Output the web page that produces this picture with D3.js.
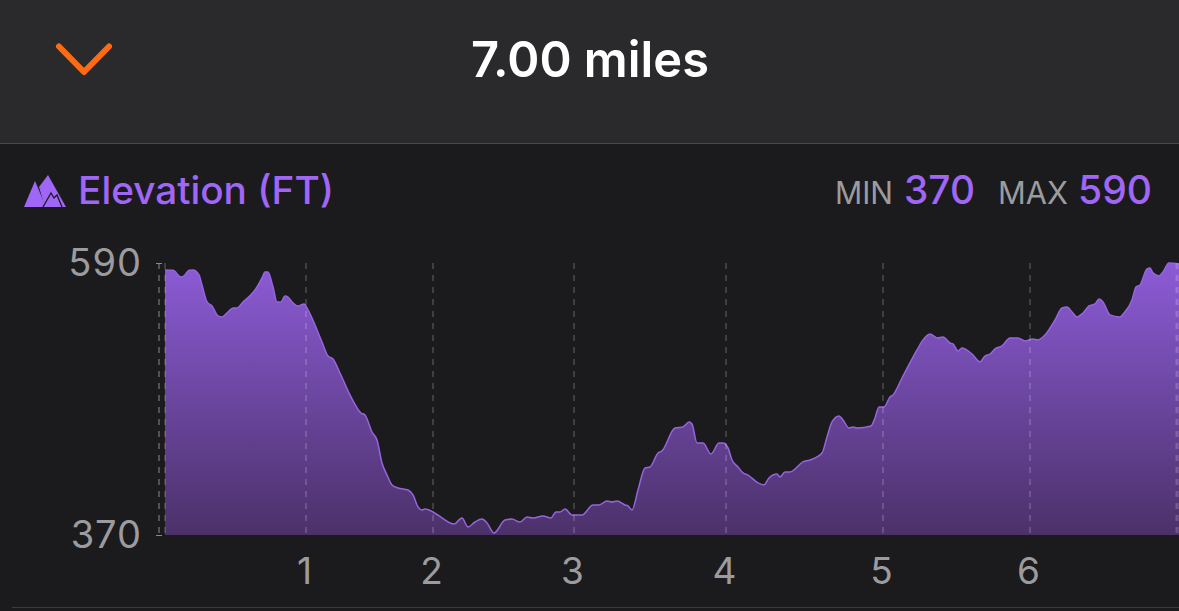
<!DOCTYPE html>
<html>
<head>
<meta charset="utf-8">
<script src="https://cdn.jsdelivr.net/npm/d3@7"></script>
<style>
  html, body { margin: 0; padding: 0; background: #1b1b1d; overflow: hidden; }
  text { font-family: Inter, "Noto Sans", sans-serif; }
</style>
</head>
<body>
<div id="chart"></div>
<script>
// elapsed time of the activity in seconds
const elapsedSec = [0,32,64,76,96,112,136,148,168,188,212,228,252,272,288,312,340,368,388,400,412,432,448,464,480,492,512,532,556,572,600,628,652,672,700,740,784,800,828,848,868,888,908,932,972,992,1012,1028,1040,1072,1108,1140,1156,1188,1212,1240,1268,1288,1316,1360,1388,1420,1448,1472,1512,1544,1564,1580,1600,1628,1668,1712,1736,1768,1788,1808,1840,1852,1868,1892,1920,1940,1972,1988,2040,2072,2096,2108,2128,2152,2184,2216,2232,2252,2268,2292,2312,2332,2372,2396,2416,2448,2460,2480,2500,2552,2580,2628,2648,2668,2696,2712,2736,2752,2768,2824,2840,2856,2876,2900,2912,2948,3008,3032,3060,3088,3112,3140,3152,3172,3188,3228,3260,3280,3300,3320,3348,3380,3412,3440,3472,3492,3520,3560,3588,3608,3628,3648,3672,3696,3720,3736,3752,3780,3820,3836,3868,3884,3900,3928,3940,3952,3976,3992,4016,4056];
const elevationFt = [584.4,584.1,578.7,579.5,584.1,584.4,580.3,572.2,558.5,555.3,547.2,546.4,550.4,553.6,553.6,558.5,563.4,570.6,577.9,582.8,582.8,570.6,558.5,558.5,563.4,562.5,557.7,555.3,556.9,552,539.9,526.1,514.8,512.4,501,483.3,468.7,467.1,453.3,446.9,428.2,418.5,410.5,408,406.4,402.4,392.7,390.2,391,388.6,383.8,379.7,378.9,383.8,376.5,380.5,382.9,379.7,371.6,382.1,382.9,380.5,384.6,383.8,385.4,383.8,388.6,388.6,391,386.2,386.2,394.3,394.3,397.5,396.7,397.5,394.3,393.5,390.2,406.4,424.2,425,436.3,438,456.6,457.4,461.4,459.8,444.4,444.4,435.5,444.4,444.4,440.4,430.7,425,420.2,418.5,412.1,410.5,416.1,419.3,416.9,421,421,429.1,430.7,436.3,449.3,461.4,466.3,463,456.6,457.4,456.6,458.2,464.7,473.6,473.6,481.6,483.3,497,519.7,527.8,532.6,529.4,530.2,525.3,524.5,518.9,521.3,516.4,510,514.8,516.4,520.5,522.9,529.4,529.4,526.9,528.6,527.8,531.8,543.9,553.6,554.5,550.4,546.4,549.6,555.3,556.9,560.9,558.5,548,546.4,549.6,560.1,570.6,572.2,585.2,586,582,579.5,582.8,590,589.2];
const mileSec = [564,1072,1636,2244,2872,3460];
const mileLabels = ['1','2','3','4','5','6'];
const elevationTicks = [370,590];
const totalSec = 4056;
const distanceLabel = '7.00 miles';

const width = 1179, height = 611;
const margin = { top: 263, right: 0, bottom: 76, left: 165 };

const purple = '#a066f6', grey = '#9c9c9f';

const svg = d3.select('#chart').append('svg')
  .attr('width', width).attr('height', height)
  .style('display', 'block');

const defs = svg.append('defs');
const grad = defs.append('linearGradient').attr('id', 'areaFill')
  .attr('x1', 0).attr('x2', 0).attr('y1', 0).attr('y2', 1);
grad.append('stop').attr('offset', '0%').attr('stop-color', '#8c5bd6');
grad.append('stop').attr('offset', '100%').attr('stop-color', '#4b3169');

// header
svg.append('rect').attr('width', width).attr('height', 143).attr('fill', '#2a2a2c');
svg.append('rect').attr('y', 143).attr('width', width).attr('height', 1).attr('fill', '#48484a');
svg.append('rect').attr('x', 12).attr('y', 607).attr('width', width - 12).attr('height', 1).attr('fill', '#3c3c3e');

svg.append('path').attr('d', 'M59,46.5L84,72L109,46.5')
  .attr('fill', 'none').attr('stroke', '#ff6a13').attr('stroke-width', 6)
  .attr('stroke-linecap', 'round').attr('stroke-linejoin', 'round');

svg.append('text').attr('x', 590).attr('y', 77).attr('text-anchor', 'middle')
  .attr('fill', '#fff').attr('font-size', 50).attr('font-weight', 600)
  .attr('textLength', 238).attr('lengthAdjust', 'spacingAndGlyphs')
  .text(distanceLabel);

// title row
const icon = svg.append('g').attr('fill', purple);
icon.append('path').attr('d', 'M24,207L35,181L46,207Z');
icon.append('path').attr('d', 'M39,187L48,175L66,207L45,207Z');
svg.append('path').attr('d', 'M43,207L51,193L54,198L57,195L62,207')
  .attr('fill', 'none').attr('stroke', '#1b1b1d').attr('stroke-width', 1.3);

svg.append('text').attr('x', 78).attr('y', 204)
  .attr('fill', purple).attr('font-size', 38).attr('font-weight', 500)
  .attr('textLength', 256).attr('lengthAdjust', 'spacingAndGlyphs')
  .text('Elevation (FT)');

const stats = [['MIN', 835, grey, 31, 400, 58], ['370', 904, purple, 40, 500, 71], ['MAX', 998, grey, 31, 400, 70], ['590', 1078, purple, 40, 500, 74]];
stats.forEach(s => {
  svg.append('text').attr('x', s[1]).attr('y', 204)
    .attr('fill', s[2]).attr('font-size', s[3]).attr('font-weight', s[4])
    .attr('textLength', s[5]).attr('lengthAdjust', 'spacingAndGlyphs')
    .text(s[0]);
});

// chart
const W = width - margin.left - margin.right;
const H = height - margin.top - margin.bottom;
const g = svg.append('g').attr('transform', `translate(${margin.left},${margin.top})`);

const x = d3.scaleLinear().domain([0, totalSec]).range([0, W]);
const y = d3.scaleLinear().domain(elevationTicks).range([H, 0]);

const points = elapsedSec.map((t, i) => ({ t, ft: elevationFt[i] }));

const area = d3.area().x(d => x(d.t)).y0(H).y1(d => y(d.ft)).curve(d3.curveMonotoneX);
const line = d3.line().x(d => x(d.t)).y(d => y(d.ft)).curve(d3.curveMonotoneX);

g.append('path').datum(points).attr('d', area).attr('fill', 'url(#areaFill)');
g.append('path').datum(points).attr('d', line)
  .attr('fill', 'none').attr('stroke', '#9565de').attr('stroke-width', 1.5);

// mile gridlines, start and end markers
g.selectAll('.grid').data(mileSec.concat([0])).enter().append('line')
  .attr('class', 'grid')
  .attr('x1', d => x(d)).attr('x2', d => x(d))
  .attr('y1', 0).attr('y2', H)
  .attr('stroke', '#fff').attr('stroke-opacity', 0.32)
  .attr('stroke-dasharray', '6,6');
g.append('line')
  .attr('x1', W - 2).attr('x2', W - 2).attr('y1', 0).attr('y2', H)
  .attr('stroke', '#fff').attr('stroke-opacity', 0.18).attr('stroke-width', 3)
  .attr('stroke-dasharray', '6,6');

// y axis
const yAxis = g.append('g').attr('transform', 'translate(-3,0)')
  .call(d3.axisLeft(y).tickValues(elevationTicks).tickSize(6).tickPadding(16));
yAxis.select('.domain').remove();
yAxis.selectAll('.tick line').attr('stroke', '#8a8a8e');
yAxis.selectAll('text').attr('fill', grey).attr('font-size', 38).attr('font-weight', 400)
  .attr('dx', 2).attr('letter-spacing', 1)
  .style('font-family', 'Inter, sans-serif');
g.append('line').attr('x1', -6).attr('x2', -6).attr('y1', 0).attr('y2', H)
  .attr('stroke', '#8a8a8e').attr('stroke-dasharray', '6,6');

// x axis
const xAxis = g.append('g').attr('transform', `translate(0,${H})`)
  .call(d3.axisBottom(x).tickValues(mileSec).tickSize(0).tickPadding(23)
    .tickFormat((d, i) => mileLabels[i]));
xAxis.select('.domain').remove();
xAxis.selectAll('text').attr('fill', grey).attr('font-size', 37).attr('dx', -2)
  .style('font-family', 'Inter, sans-serif');
</script>
</body>
</html>
